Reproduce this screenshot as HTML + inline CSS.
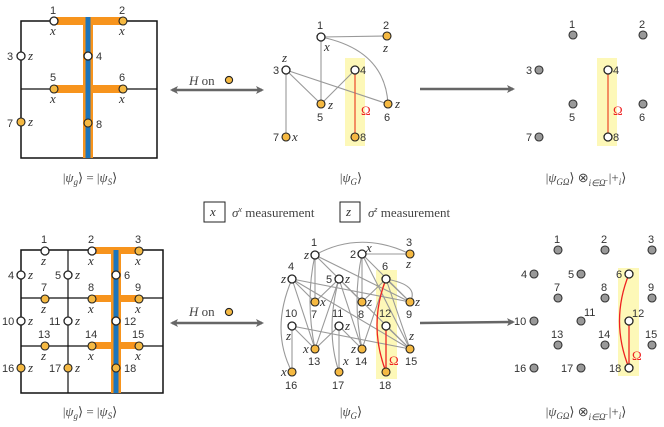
<!DOCTYPE html>
<html><head><meta charset="utf-8"><style>
html,body{margin:0;padding:0;background:#fff}
svg{display:block}
.n{font-family:"Liberation Sans",sans-serif;font-size:11px;fill:#333}
.i{font-family:"Liberation Serif",serif;font-style:italic;font-size:13px;fill:#333}
.c{font-family:"Liberation Serif",serif;font-size:13px;fill:#444}
.w{fill:#fff;stroke:#222;stroke-width:1.3}
.o{fill:#f5b942;stroke:#222;stroke-width:1.1}
.g{fill:#999;stroke:#333;stroke-width:1.1}
.e{stroke:#999;stroke-width:1.1;fill:none}
</style></head><body>
<svg width="664" height="427" viewBox="0 0 664 427" xmlns="http://www.w3.org/2000/svg">
<defs>
<marker id="ah" markerWidth="8" markerHeight="8" refX="6" refY="4" orient="auto-start-reverse" markerUnits="userSpaceOnUse"><path d="M0,0 L8,4 L0,8 L2,4 z" fill="#666"/></marker>
</defs>

<!-- ===== TOP LEFT GRID ===== -->
<rect x="21" y="21" width="136" height="137" fill="none" stroke="#111" stroke-width="1.5"/>
<line x1="21" y1="89" x2="157" y2="89" stroke="#111" stroke-width="1.2"/>
<rect x="54" y="17" width="69" height="8" fill="#f7941d"/>
<rect x="54" y="85" width="69" height="8" fill="#f7941d"/>
<rect x="83" y="17" width="10" height="141" fill="#f7941d"/>
<rect x="85.5" y="17" width="5" height="141" fill="#1c75bc"/>
<circle class="w" cx="54" cy="21" r="4"/><circle class="o" cx="123" cy="21" r="4"/>
<circle class="w" cx="21" cy="56" r="4"/><circle class="w" cx="88" cy="56" r="4"/>
<circle class="o" cx="54" cy="89" r="4"/><circle class="o" cx="123" cy="89" r="4"/>
<circle class="o" cx="21" cy="122" r="4"/><circle class="o" cx="88" cy="123" r="4"/>
<text class="n" x="50" y="14">1</text><text class="n" x="119" y="14">2</text>
<text class="n" x="7" y="60">3</text><text class="n" x="96" y="60">4</text>
<text class="n" x="50" y="81">5</text><text class="n" x="119" y="81">6</text>
<text class="n" x="7" y="127">7</text><text class="n" x="96" y="128">8</text>
<text class="i" x="50" y="35">x</text><text class="i" x="119" y="35">x</text>
<text class="i" x="28" y="60">z</text><text class="i" x="50" y="103">x</text>
<text class="i" x="119" y="103">x</text><text class="i" x="28" y="126">z</text>
<text class="c" x="90" y="182" text-anchor="middle">|<tspan font-style="italic">ψ<tspan font-size="9" dy="3">g</tspan></tspan><tspan dy="-3">⟩ = |</tspan><tspan font-style="italic">ψ<tspan font-size="9" dy="3">S</tspan></tspan><tspan dy="-3">⟩</tspan></text>

<!-- double arrows -->
<line x1="172" y1="90" x2="262" y2="90" stroke="#666" stroke-width="2.5" marker-start="url(#ah)" marker-end="url(#ah)"/>
<text class="c" x="189" y="85" font-size="14"><tspan font-style="italic">H</tspan> on</text>
<circle class="o" cx="229" cy="80" r="3.6"/>
<line x1="172" y1="323" x2="262" y2="323" stroke="#666" stroke-width="2.5" marker-start="url(#ah)" marker-end="url(#ah)"/>
<text class="c" x="189" y="316" font-size="14"><tspan font-style="italic">H</tspan> on</text>
<circle class="o" cx="229" cy="312" r="3.6"/>

<!-- right arrows -->
<line x1="420" y1="89" x2="513" y2="89" stroke="#666" stroke-width="2.5" marker-end="url(#ah)"/>
<line x1="420" y1="323" x2="513" y2="322" stroke="#666" stroke-width="2.5" marker-end="url(#ah)"/>

<!-- ===== TOP MIDDLE GRAPH ===== -->
<rect x="345" y="58" width="20" height="88" fill="#fdf8b8"/>
<line class="e" x1="321" y1="37" x2="387" y2="36"/>
<line class="e" x1="321" y1="37" x2="321" y2="104"/>
<path class="e" d="M321,37 Q385,50 388,104"/>
<line class="e" x1="286" y1="70" x2="321" y2="104"/>
<line class="e" x1="286" y1="70" x2="388" y2="104"/>
<line class="e" x1="286" y1="70" x2="286" y2="137"/>
<line class="e" x1="321" y1="104" x2="355" y2="70"/>
<line x1="355" y1="70" x2="355" y2="137" stroke="#e53" stroke-width="1.3"/>
<circle class="w" cx="321" cy="37" r="4"/><circle class="o" cx="387" cy="36" r="4"/>
<circle class="w" cx="286" cy="70" r="4"/><circle class="w" cx="355" cy="70" r="4"/>
<circle class="o" cx="321" cy="104" r="4"/><circle class="o" cx="388" cy="104" r="4"/>
<circle class="o" cx="286" cy="137" r="4"/><circle class="o" cx="355" cy="137" r="4"/>
<text class="n" x="317" y="29">1</text><text class="n" x="383" y="29">2</text>
<text class="n" x="273" y="74">3</text><text class="n" x="360" y="74">4</text>
<text class="n" x="317" y="121">5</text><text class="n" x="384" y="121">6</text>
<text class="n" x="273" y="141">7</text><text class="n" x="360" y="141">8</text>
<text class="i" x="324" y="51">x</text><text class="i" x="383" y="52">z</text>
<text class="i" x="282" y="62">z</text><text class="i" x="328" y="109">z</text>
<text class="i" x="395" y="108">z</text><text class="i" x="292" y="141">x</text>
<text class="c" x="361" y="115" fill="#e22" style="fill:#e22">Ω</text>
<text class="c" x="351" y="182" text-anchor="middle">|<tspan font-style="italic">ψ<tspan font-size="9" dy="3">G</tspan></tspan><tspan dy="-3">⟩</tspan></text>

<!-- ===== TOP RIGHT ===== -->
<rect x="597" y="58" width="20" height="88" fill="#fdf8b8"/>
<line x1="608" y1="70" x2="608" y2="137" stroke="#e53" stroke-width="1.3"/>
<circle class="g" cx="573" cy="35" r="4"/><circle class="g" cx="643" cy="35" r="4"/>
<circle class="g" cx="539" cy="70" r="4"/><circle class="w" cx="608" cy="70" r="4"/>
<circle class="g" cx="573" cy="104" r="4"/><circle class="g" cx="643" cy="104" r="4"/>
<circle class="g" cx="539" cy="137" r="4"/><circle class="w" cx="608" cy="137" r="4"/>
<text class="n" x="569" y="28">1</text><text class="n" x="639" y="28">2</text>
<text class="n" x="526" y="74">3</text><text class="n" x="613" y="74">4</text>
<text class="n" x="569" y="121">5</text><text class="n" x="639" y="121">6</text>
<text class="n" x="526" y="141">7</text><text class="n" x="613" y="141">8</text>
<text class="c" x="613" y="115" style="fill:#e22">Ω</text>
<text class="c" x="586" y="182" text-anchor="middle">|<tspan font-style="italic">ψ<tspan font-size="9" dy="3">GΩ</tspan></tspan><tspan dy="-3">⟩ ⊗</tspan><tspan font-size="9" font-style="italic" dy="4">i∈Ω̄</tspan><tspan dy="-4"> |+</tspan><tspan font-size="9" font-style="italic" dy="3">i</tspan><tspan dy="-3">⟩</tspan></text>

<!-- ===== LEGEND ===== -->
<rect x="204" y="202" width="21" height="20" fill="none" stroke="#222" stroke-width="1"/>
<text class="i" x="210" y="216">x</text>
<text class="c" x="232" y="217"><tspan font-style="italic">σ</tspan><tspan font-size="8" font-style="italic" dy="-5">x</tspan><tspan dy="5"> measurement</tspan></text>
<rect x="340" y="202" width="20" height="20" fill="none" stroke="#222" stroke-width="1"/>
<text class="i" x="346" y="216">z</text>
<text class="c" x="368" y="217"><tspan font-style="italic">σ</tspan><tspan font-size="8" font-style="italic" dy="-5">z</tspan><tspan dy="5"> measurement</tspan></text>

<!-- ===== BOTTOM LEFT GRID ===== -->
<rect x="21" y="250" width="142" height="143" fill="none" stroke="#111" stroke-width="1.5"/>
<line x1="68" y1="250" x2="68" y2="393" stroke="#111" stroke-width="1.2"/>
<line x1="21" y1="298" x2="163" y2="298" stroke="#111" stroke-width="1.2"/>
<line x1="21" y1="346" x2="163" y2="346" stroke="#111" stroke-width="1.2"/>
<rect x="92" y="247" width="47" height="7" fill="#f7941d"/>
<rect x="92" y="295" width="47" height="7" fill="#f7941d"/>
<rect x="92" y="342" width="47" height="7" fill="#f7941d"/>
<rect x="111" y="247" width="10" height="146" fill="#f7941d"/>
<rect x="113.5" y="250" width="5" height="143" fill="#1c75bc"/>
<circle class="w" cx="45" cy="251" r="4"/><circle class="w" cx="92" cy="251" r="4"/><circle class="o" cx="139" cy="251" r="4"/>
<circle class="w" cx="21" cy="275" r="4"/><circle class="w" cx="68" cy="275" r="4"/><circle class="w" cx="116" cy="275" r="4"/>
<circle class="o" cx="45" cy="299" r="4"/><circle class="o" cx="92" cy="299" r="4"/><circle class="o" cx="139" cy="299" r="4"/>
<circle class="w" cx="21" cy="321" r="4"/><circle class="w" cx="68" cy="321" r="4"/><circle class="w" cx="116" cy="321" r="4"/>
<circle class="o" cx="45" cy="346" r="4"/><circle class="o" cx="92" cy="346" r="4"/><circle class="o" cx="139" cy="346" r="4"/>
<circle class="o" cx="21" cy="368" r="4"/><circle class="o" cx="68" cy="368" r="4"/><circle class="o" cx="116" cy="368" r="4"/>
<text class="n" x="41" y="243">1</text><text class="n" x="88" y="243">2</text><text class="n" x="135" y="243">3</text>
<text class="n" x="8" y="279">4</text><text class="n" x="55" y="279">5</text><text class="n" x="124" y="279">6</text>
<text class="n" x="41" y="291">7</text><text class="n" x="88" y="291">8</text><text class="n" x="135" y="291">9</text>
<text class="n" x="2" y="325">10</text><text class="n" x="49" y="325">11</text><text class="n" x="124" y="325">12</text>
<text class="n" x="38" y="338">13</text><text class="n" x="85" y="338">14</text><text class="n" x="132" y="338">15</text>
<text class="n" x="2" y="372">16</text><text class="n" x="49" y="372">17</text><text class="n" x="124" y="372">18</text>
<text class="i" x="41" y="265">z</text><text class="i" x="88" y="265">x</text><text class="i" x="135" y="265">x</text>
<text class="i" x="28" y="279">z</text><text class="i" x="75" y="279">z</text>
<text class="i" x="41" y="313">z</text><text class="i" x="88" y="313">x</text><text class="i" x="135" y="313">x</text>
<text class="i" x="28" y="325">z</text><text class="i" x="75" y="325">z</text>
<text class="i" x="41" y="360">z</text><text class="i" x="88" y="360">x</text><text class="i" x="135" y="360">x</text>
<text class="i" x="28" y="372">z</text><text class="i" x="75" y="372">z</text>
<text class="c" x="90" y="416" text-anchor="middle">|<tspan font-style="italic">ψ<tspan font-size="9" dy="3">g</tspan></tspan><tspan dy="-3">⟩ = |</tspan><tspan font-style="italic">ψ<tspan font-size="9" dy="3">S</tspan></tspan><tspan dy="-3">⟩</tspan></text>

<!-- ===== BOTTOM MIDDLE GRAPH ===== -->
<rect x="376" y="270" width="21" height="109" fill="#fdf8b8"/>
<g class="e">
<path d="M315,255 Q360,230 410,254"/>
<line x1="315" y1="255" x2="315" y2="302"/>
<path d="M315,255 Q305,300 315,349"/>
<line x1="315" y1="255" x2="410" y2="302"/>
<line x1="315" y1="255" x2="410" y2="349"/>
<line x1="362" y1="254" x2="410" y2="254"/>
<line x1="362" y1="254" x2="362" y2="302"/>
<path d="M362,254 Q352,300 362,349"/>
<line x1="362" y1="254" x2="410" y2="302"/>
<line x1="362" y1="254" x2="410" y2="349"/>
<line x1="292" y1="279" x2="410" y2="302"/>
<line x1="292" y1="279" x2="410" y2="349"/>
<line x1="292" y1="279" x2="315" y2="349"/>
<line x1="292" y1="279" x2="315" y2="302"/>
<path d="M292,279 Q270,330 292,372"/>
<line x1="339" y1="279" x2="315" y2="302"/>
<line x1="339" y1="279" x2="315" y2="349"/>
<line x1="339" y1="279" x2="362" y2="302"/>
<line x1="339" y1="279" x2="362" y2="349"/>
<path d="M339,279 Q325,330 339,372"/>
<line x1="386" y1="279" x2="410" y2="302"/>
<line x1="386" y1="279" x2="410" y2="349"/>
<line x1="386" y1="279" x2="362" y2="302"/>
<line x1="386" y1="279" x2="362" y2="349"/>
<path d="M386,279 Q420,285 410,302"/>
<line x1="292" y1="326" x2="315" y2="349"/>
<line x1="292" y1="326" x2="410" y2="349"/>
<line x1="292" y1="326" x2="292" y2="372"/>
<line x1="339" y1="326" x2="315" y2="349"/>
<line x1="339" y1="326" x2="362" y2="349"/>
<line x1="339" y1="326" x2="339" y2="372"/>
<line x1="386" y1="326" x2="410" y2="349"/>
</g>
<path d="M386,279 Q368,325 386,372" fill="none" stroke="#e22" stroke-width="1.3"/>
<line x1="386" y1="326" x2="386" y2="372" stroke="#e22" stroke-width="1.3"/>
<circle class="w" cx="315" cy="255" r="4"/><circle class="w" cx="362" cy="254" r="4"/><circle class="o" cx="410" cy="254" r="4"/>
<circle class="w" cx="292" cy="279" r="4"/><circle class="w" cx="339" cy="279" r="4"/><circle class="w" cx="386" cy="279" r="4"/>
<circle class="o" cx="315" cy="302" r="4"/><circle class="o" cx="362" cy="302" r="4"/><circle class="o" cx="410" cy="302" r="4"/>
<circle class="w" cx="292" cy="326" r="4"/><circle class="w" cx="339" cy="326" r="4"/><circle class="w" cx="386" cy="326" r="4"/>
<circle class="o" cx="315" cy="349" r="4"/><circle class="o" cx="362" cy="349" r="4"/><circle class="o" cx="410" cy="349" r="4"/>
<circle class="o" cx="292" cy="372" r="4"/><circle class="o" cx="339" cy="372" r="4"/><circle class="o" cx="386" cy="372" r="4"/>
<text class="n" x="311" y="246">1</text><text class="n" x="350" y="258">2</text><text class="n" x="406" y="246">3</text>
<text class="n" x="288" y="270">4</text><text class="n" x="326" y="283">5</text><text class="n" x="382" y="270">6</text>
<text class="n" x="311" y="318">7</text><text class="n" x="358" y="318">8</text><text class="n" x="406" y="318">9</text>
<text class="n" x="285" y="317">10</text><text class="n" x="332" y="317">11</text><text class="n" x="379" y="317">12</text>
<text class="n" x="308" y="365">13</text><text class="n" x="355" y="365">14</text><text class="n" x="405" y="365">15</text>
<text class="n" x="285" y="389">16</text><text class="n" x="332" y="389">17</text><text class="n" x="379" y="389">18</text>
<text class="i" x="304" y="259">z</text><text class="i" x="366" y="252">x</text><text class="i" x="406" y="268">z</text>
<text class="i" x="281" y="283">z</text><text class="i" x="345" y="283">z</text>
<text class="i" x="320" y="306">x</text><text class="i" x="367" y="306">z</text><text class="i" x="415" y="306">z</text>
<text class="i" x="286" y="340">z</text><text class="i" x="345" y="330">z</text>
<text class="i" x="303" y="353">x</text><text class="i" x="351" y="353">z</text><text class="i" x="409" y="340">z</text>
<text class="i" x="281" y="376">x</text><text class="i" x="343" y="365">x</text>
<text class="c" x="389" y="365" style="fill:#e22">Ω</text>
<text class="c" x="351" y="416" text-anchor="middle">|<tspan font-style="italic">ψ<tspan font-size="9" dy="3">G</tspan></tspan><tspan dy="-3">⟩</tspan></text>

<!-- ===== BOTTOM RIGHT ===== -->
<rect x="618" y="268" width="21" height="108" fill="#fdf8b8"/>
<path d="M629,274 Q610,321 629,368" fill="none" stroke="#e22" stroke-width="1.3"/>
<line x1="629" y1="321" x2="629" y2="368" stroke="#e22" stroke-width="1.3"/>
<circle class="g" cx="558" cy="250" r="4"/><circle class="g" cx="605" cy="250" r="4"/><circle class="g" cx="652" cy="250" r="4"/>
<circle class="g" cx="534" cy="274" r="4"/><circle class="g" cx="581" cy="274" r="4"/><circle class="w" cx="629" cy="274" r="4"/>
<circle class="g" cx="558" cy="298" r="4"/><circle class="g" cx="605" cy="298" r="4"/><circle class="g" cx="652" cy="298" r="4"/>
<circle class="g" cx="534" cy="321" r="4"/><circle class="g" cx="581" cy="321" r="4"/><circle class="w" cx="629" cy="321" r="4"/>
<circle class="g" cx="558" cy="345" r="4"/><circle class="g" cx="605" cy="345" r="4"/><circle class="g" cx="652" cy="345" r="4"/>
<circle class="g" cx="534" cy="368" r="4"/><circle class="g" cx="581" cy="368" r="4"/><circle class="w" cx="629" cy="368" r="4"/>
<text class="n" x="554" y="243">1</text><text class="n" x="601" y="243">2</text><text class="n" x="648" y="243">3</text>
<text class="n" x="521" y="278">4</text><text class="n" x="568" y="278">5</text><text class="n" x="616" y="278">6</text>
<text class="n" x="554" y="291">7</text><text class="n" x="601" y="291">8</text><text class="n" x="648" y="291">9</text>
<text class="n" x="514" y="325">10</text><text class="n" x="584" y="316">11</text><text class="n" x="632" y="317">12</text>
<text class="n" x="551" y="338">13</text><text class="n" x="598" y="338">14</text><text class="n" x="645" y="338">15</text>
<text class="n" x="514" y="372">16</text><text class="n" x="561" y="372">17</text><text class="n" x="609" y="372">18</text>
<text class="c" x="632" y="360" style="fill:#e22">Ω</text>
<text class="c" x="586" y="416" text-anchor="middle">|<tspan font-style="italic">ψ<tspan font-size="9" dy="3">GΩ</tspan></tspan><tspan dy="-3">⟩ ⊗</tspan><tspan font-size="9" font-style="italic" dy="4">i∈Ω̄</tspan><tspan dy="-4"> |+</tspan><tspan font-size="9" font-style="italic" dy="3">i</tspan><tspan dy="-3">⟩</tspan></text>
</svg>
</body></html>
